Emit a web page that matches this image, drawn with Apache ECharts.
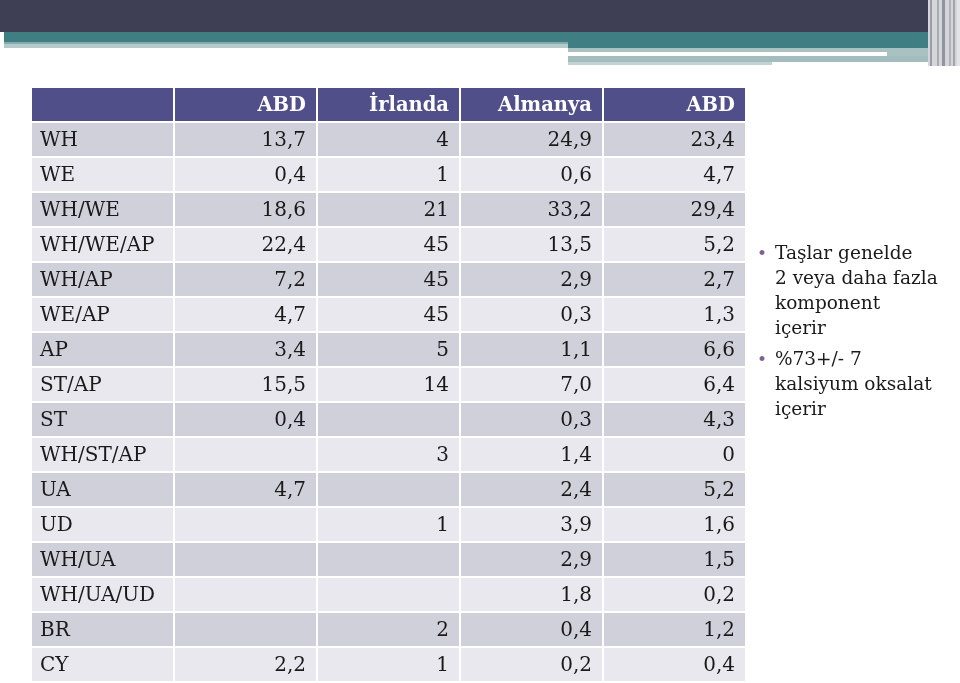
<!DOCTYPE html>
<html><head><meta charset="utf-8">
<script src="https://cdn.jsdelivr.net/npm/echarts@6/dist/echarts.min.js"></script>
<style>html,body{margin:0;padding:0;background:#fff}#c{width:960px;height:683px}</style>
</head><body><div id="c"></div>
<script>
const rowLabels = ['WH','WE','WH/WE','WH/WE/AP','WH/AP','WE/AP','AP','ST/AP','ST','WH/ST/AP','UA','UD','WH/UA','WH/UA/UD','BR','CY'];
const columnHeaders = ['ABD','İrlanda','Almanya','ABD'];
const abdA = [13.7,0.4,18.6,22.4,7.2,4.7,3.4,15.5,0.4,null,4.7,null,null,null,null,2.2];
const irlanda = [4,1,21,45,45,45,5,14,null,3,null,1,null,null,2,1];
const almanya = [24.9,0.6,33.2,13.5,2.9,0.3,1.1,7.0,0.3,1.4,2.4,3.9,2.9,1.8,0.4,0.2];
const abdB = [23.4,4.7,29.4,5.2,2.7,1.3,6.6,6.4,4.3,0,5.2,1.6,1.5,0.2,1.2,0.4];
const decimals = [1,0,1,1];
const notes = [['Taşlar genelde','2 veya daha fazla','komponent','içerir'],['%73+/- 7','kalsiyum oksalat','içerir']];

const columns = [abdA, irlanda, almanya, abdB];
function fmt(v, d){
  if (v === null || v === undefined) return '';
  if (v === 0) return '0';
  return v.toFixed(d).replace('.', ',');
}
const cells = [];
cells.push({x:0, y:0, text:''});
columnHeaders.forEach((h,i)=>cells.push({x:i+1, y:0, text:h}));
rowLabels.forEach((lab, r)=>{
  cells.push({x:0, y:r+1, text:lab});
  columns.forEach((col, c)=>cells.push({x:c+1, y:r+1, text:fmt(col[r], decimals[c])}));
});

const FONT = '"DejaVu Serif", Georgia, serif';
function renderItem(params, api){
  const cx = api.value(0), cy = api.value(1);
  const p = api.coord([cx, cy]);
  const s = api.size([1,1]);
  const x0 = p[0]-s[0]/2, y0 = p[1]-s[1]/2;
  const cell = cells[params.dataIndex];
  const gap = 1;
  const fill = cy===0 ? '#504F8A' : (cy%2===1 ? '#D0D0DA' : '#E8E8EE');
  const children = [{type:'rect', shape:{x:x0+gap, y:y0+gap, width:s[0]-2*gap, height:s[1]-2*gap}, style:{fill:fill}}];
  if (cell.text){
    children.push({type:'text', x: cx===0 ? x0+9 : x0+s[0]-11, y: p[1]+1,
      style:{text:cell.text, align: cx===0?'left':'right', verticalAlign:'middle',
        font: (cy===0 ? 'bold 19.5px ' : '20px ') + FONT, fill: cy===0 ? '#ffffff' : '#1a1a1a'}});
  }
  return {type:'group', children:children};
}

const graphics = [
  {type:'rect', shape:{x:0,y:0,width:928,height:32}, style:{fill:'#3E3F54'}},
  {type:'rect', shape:{x:4,y:32,width:924,height:10}, style:{fill:'#3F7E82'}},
  {type:'rect', shape:{x:568,y:42,width:360,height:6}, style:{fill:'#3F7E82'}},
  {type:'rect', shape:{x:4,y:42,width:564,height:2}, style:{fill:'#86A9AB'}},
  {type:'rect', shape:{x:4,y:44,width:564,height:4}, style:{fill:'#B4C9C9'}},
  {type:'rect', shape:{x:568,y:48,width:360,height:4}, style:{fill:'#A8C2C2'}},
  {type:'rect', shape:{x:887,y:52,width:41,height:4}, style:{fill:'#A8C2C2'}},
  {type:'rect', shape:{x:568,y:56,width:360,height:6}, style:{fill:'#A3BCBD'}},
  {type:'rect', shape:{x:568,y:62,width:204,height:3}, style:{fill:'#C2D3D3'}},
  {type:'rect', shape:{x:928,y:0,width:32,height:66}, style:{fill:'#D4D6DA'}},
  {type:'rect', shape:{x:930,y:0,width:2,height:66}, style:{fill:'#9A9CA8'}},
  {type:'rect', shape:{x:937,y:0,width:2,height:66}, style:{fill:'#AAACB4'}},
  {type:'rect', shape:{x:942,y:0,width:3,height:66}, style:{fill:'#9093A0'}},
  {type:'rect', shape:{x:949,y:0,width:2,height:66}, style:{fill:'#B0B4BA'}},
  {type:'rect', shape:{x:953,y:0,width:2,height:66}, style:{fill:'#A0A4AC'}},
  {type:'rect', shape:{x:957,y:0,width:3,height:66}, style:{fill:'#E2E4E6'}}
];
let ty = 254;
notes.forEach((para)=>{
  graphics.push({type:'text', x:757, y:ty+1, style:{text:'•', font:'17px '+FONT, fill:'#7F6193', verticalAlign:'middle'}});
  para.forEach((line)=>{
    graphics.push({type:'text', x:775, y:ty, style:{text:line, font:'18.5px '+FONT, fill:'#1a1a1a', verticalAlign:'middle'}});
    ty += 25;
  });
  ty += 6;
});

const chart = echarts.init(document.getElementById('c'), null, {renderer:'canvas'});
chart.setOption({
  backgroundColor:'#ffffff',
  animation:false,
  grid:{left:31, top:87, width:715, height:595, containLabel:false},
  xAxis:{type:'category', data:['0','1','2','3','4'], show:false},
  yAxis:{type:'category', inverse:true, data:['h'].concat(rowLabels), show:false},
  series:[{type:'custom', renderItem:renderItem, data:cells.map(c=>[c.x, c.y]), clip:false}],
  graphic:graphics
});
</script></body></html>
